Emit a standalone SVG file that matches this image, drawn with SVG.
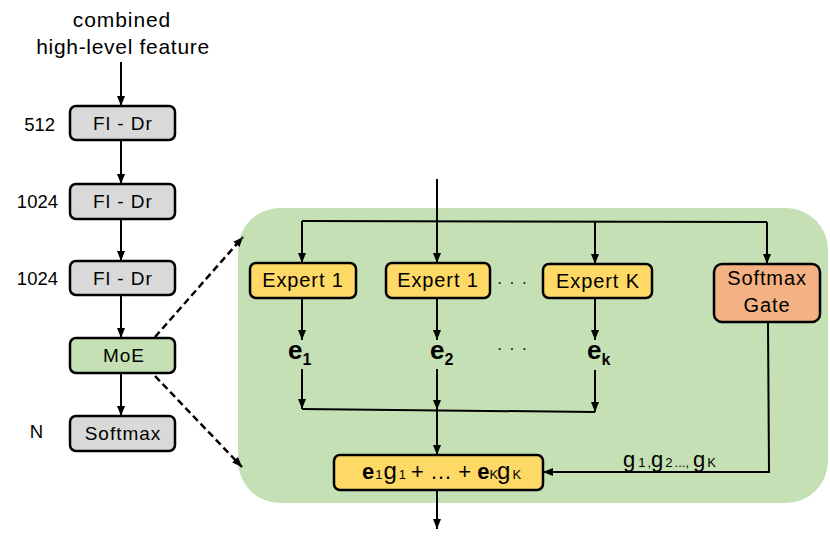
<svg xmlns="http://www.w3.org/2000/svg" width="830" height="540" viewBox="0 0 830 540">
<defs>
<marker id="ah" markerUnits="userSpaceOnUse" markerWidth="10" markerHeight="10" viewBox="0 0 10 10" refX="10" refY="5" orient="auto">
<path d="M0,1 L10,5 L0,9 Z" fill="#000"/>
</marker>
<style>
text{font-family:"Liberation Sans",Arial,sans-serif;fill:#000}
.box{stroke:#000;stroke-width:2.5}
.gray{fill:#d9d9d9}
.green{fill:#c5e0b4}
.yellow{fill:#ffd966}
.orange{fill:#f4b183}
.bt{font-size:19px;letter-spacing:1px;text-anchor:middle}
.et{font-size:20px;letter-spacing:0.9px;text-anchor:middle}
.lab{font-size:18.5px;text-anchor:end}
.ln{stroke:#000;stroke-width:2;fill:none}
.ar{stroke:#000;stroke-width:2;fill:none;marker-end:url(#ah)}
.da{stroke:#000;stroke-width:2.5;fill:none;stroke-dasharray:7,4;marker-end:url(#ah)}
.eb{font-size:26px;font-weight:bold}
.dots{font-size:16px;letter-spacing:7px}
</style>
</defs>
<rect id="panel" x="238" y="208" width="590" height="295" rx="42" ry="42" fill="#c5e0b4"/>
<text x="122" y="27" font-size="21" letter-spacing="0.9" text-anchor="middle">combined</text>
<text x="123" y="54" font-size="21" letter-spacing="0.7" text-anchor="middle">high-level feature</text>
<text class="lab" x="55" y="131">512</text>
<text class="lab" x="58" y="208">1024</text>
<text class="lab" x="58" y="285">1024</text>
<text class="lab" x="43" y="438">N</text>
<g id="connectors">
<line class="ar" x1="121" y1="62" x2="121" y2="106"/>
<line class="ar" x1="121" y1="140" x2="121" y2="184"/>
<line class="ar" x1="121" y1="219" x2="121" y2="261"/>
<line class="ar" x1="121" y1="295" x2="121" y2="338"/>
<line class="ar" x1="121" y1="373" x2="121" y2="416"/>
<line class="da" x1="155" y1="337" x2="243" y2="237"/>
<line class="da" x1="155" y1="376" x2="242" y2="467"/>
<line class="ar" x1="437" y1="179" x2="437" y2="263"/>
<polyline class="ln" points="302,221 767,222"/>
<line class="ar" x1="302" y1="221" x2="302" y2="263"/>
<line class="ar" x1="595" y1="222" x2="595" y2="264"/>
<line class="ar" x1="767" y1="222" x2="767" y2="264"/>
<line class="ar" x1="302" y1="298" x2="302" y2="340"/>
<line class="ar" x1="437" y1="298" x2="437" y2="340"/>
<line class="ar" x1="595" y1="298" x2="595" y2="340"/>
<line class="ar" x1="302" y1="369" x2="302" y2="409"/>
<line class="ar" x1="437" y1="369" x2="437" y2="410"/>
<line class="ar" x1="595" y1="370" x2="595" y2="412"/>
<line class="ln" x1="302" y1="409" x2="595" y2="412"/>
<line class="ar" x1="437" y1="410" x2="437" y2="455"/>
<polyline class="ar" points="768,322 769,472 543,472"/>
<line class="ar" x1="437" y1="490" x2="437" y2="529"/>
</g>
<g id="fl1"><rect class="box gray" x="70" y="106" width="105" height="34" rx="6"/><text class="bt" x="123" y="130">Fl - Dr</text></g>
<g id="fl2"><rect class="box gray" x="70" y="184" width="105" height="35" rx="6"/><text class="bt" x="123" y="208">Fl - Dr</text></g>
<g id="fl3"><rect class="box gray" x="70" y="261" width="105" height="34" rx="6"/><text class="bt" x="123" y="285">Fl - Dr</text></g>
<g id="moe"><rect class="box green" x="70" y="338" width="105" height="35" rx="6"/><text class="bt" x="124" y="362" letter-spacing="3">MoE</text></g>
<g id="softmax"><rect class="box gray" x="70" y="416" width="105" height="35" rx="6"/><text class="bt" x="123" y="440" letter-spacing="1.5">Softmax</text></g>
<g id="expert1"><rect class="box yellow" x="250" y="263" width="106" height="35" rx="6"/><text class="et" x="303" y="287">Expert 1</text></g>
<g id="expert2"><rect class="box yellow" x="386" y="263" width="104" height="35" rx="6"/><text class="et" x="438" y="287">Expert 1</text></g>
<g id="expertK"><rect class="box yellow" x="543" y="264" width="109" height="34" rx="6"/><text class="et" x="598" y="288">Expert K</text></g>
<g id="gate"><rect class="box orange" x="714" y="264" width="106" height="58" rx="8"/><text class="et" x="767" y="285" letter-spacing="0.8">Softmax</text><text class="et" x="767" y="312" letter-spacing="0.8">Gate</text></g>
<text class="dots" x="497" y="288">···</text>
<text class="dots" x="497" y="354">···</text>
<text class="eb" x="288" y="359">e<tspan font-size="16" dy="6">1</tspan></text>
<text class="eb" x="430" y="359">e<tspan font-size="16" dy="6">2</tspan></text>
<text class="eb" x="587" y="359">e<tspan font-size="16" dy="6">k</tspan></text>
<g id="combine"><rect class="box yellow" x="334" y="455" width="209" height="35" rx="6"/>
<text x="362" y="479" font-size="22"><tspan font-weight="bold">e</tspan><tspan font-size="13" dx="1">1</tspan><tspan font-size="24" dx="1">g</tspan><tspan font-size="13" dx="2">1</tspan><tspan dx="5">+  …  + </tspan><tspan font-weight="bold">e</tspan><tspan font-size="13">K</tspan><tspan font-size="24" dx="-1">g</tspan><tspan font-size="13" dx="2">K</tspan></text></g>
<text x="623" y="467" font-size="22" fill="#222">g<tspan font-size="13" dx="3">1</tspan><tspan font-size="13" dx="2">,</tspan>g<tspan font-size="13" dx="2">2</tspan><tspan font-size="13" dx="2">...,</tspan><tspan dx="4">g</tspan><tspan font-size="13" dx="2">K</tspan></text>
</svg>
